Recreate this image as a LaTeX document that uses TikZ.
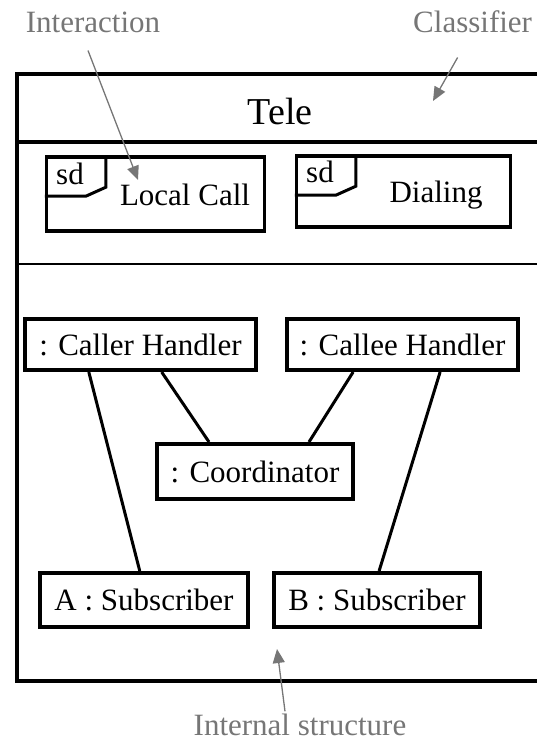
\documentclass[tikz,border=0pt]{standalone}
\usepackage{fontspec}
\setmainfont{Liberation Serif}
\usetikzlibrary{calc,arrows.meta}
\definecolor{notegray}{HTML}{767676}
\tikzset{
	partbox/.style={draw, line width=4pt, inner sep=0pt, font=\fontsize{31}{37}\selectfont},
	sdframe/.style={draw, line width=3.5pt, inner sep=0pt, minimum width=216pt, minimum height=72pt},
	sdtext/.style={inner sep=0pt, anchor=base, font=\fontsize{31}{37}\selectfont},
	wire/.style={line width=3pt},
	notetext/.style={inner sep=0pt, text=notegray, font=\fontsize{31}{37}\selectfont},
	note/.style={draw=notegray, line width=1.3pt, -{Triangle[length=14pt,width=12pt]}}
}

\begin{document}
\begin{tikzpicture}[x=1pt,y=-1pt]
		%%%%% START %%%%%
		\clip (0,0) rectangle (537,743);
		
		% classifier frame
		\draw[line width=4pt] (17,74) rectangle (560,681);
		\draw[line width=3.5pt] (17,142) -- (560,142);
		\draw[line width=2.5pt] (17,264) -- (560,264);
		\node[sdtext] (tele) at (280,125) {\fontsize{38}{44}\selectfont Tele};
		
		% interactions
		\node[sdframe, minimum width=218pt, minimum height=74pt] (localcall) at (155.5,194) {};
		\draw[line width=3pt] ($(localcall.north west)+(61,0)$) -- ++(0,32) -- ++(-20,9) -- ($(localcall.north west)+(0,41)$);
		\node[sdtext] (lcsd) at (70,185) {sd};
		\node[sdtext] (lcname) at (185,205) {Local Call};
		
		\node[sdframe, minimum width=214pt, minimum height=71pt] (dialing) at (403.5,191.5) {};
		\draw[line width=3pt] ($(dialing.north west)+(61,0)$) -- ++(0,32) -- ++(-20,9) -- ($(dialing.north west)+(0,41)$);
		\node[sdtext] (dlsd) at (320,183) {sd};
		\node[sdtext] (dlname) at (436,203) {Dialing};
		
		% internal structure
		\node[partbox, minimum width=231pt, minimum height=51pt] (caller) at (140.5,344.5) {: Caller Handler};
		\node[partbox, minimum width=231pt, minimum height=51pt] (callee) at (402.5,344.5) {: Callee Handler};
		\node[partbox, minimum width=196pt, minimum height=55pt] (coord) at (255,471.5) {: Coordinator};
		\node[partbox, minimum width=208pt, minimum height=54pt] (subA) at (144,600) {A : Subscriber};
		\node[partbox, minimum width=206pt, minimum height=54pt] (subB) at (377,600) {B : Subscriber};
		
		\draw[wire] ($(caller.south west)!0.28!(caller.south east)$) -- ($(subA.north west)!0.48!(subA.north east)$);
		\draw[wire] ($(caller.south west)!0.59!(caller.south east)$) -- ($(coord.north west)!0.27!(coord.north east)$);
		\draw[wire] ($(callee.south west)!0.29!(callee.south east)$) -- ($(coord.north west)!0.77!(coord.north east)$);
		\draw[wire] ($(callee.south west)!0.66!(callee.south east)$) -- ($(subB.north west)!0.51!(subB.north east)$);
		
		% notes
		\node[notetext, anchor=base] (interlbl) at (93,33) {Interaction};
		\coordinate (intertip) at (138,180);
		\draw[note] ($(interlbl.south)+(-5,17)$) -- (intertip);
		
		\node[notetext, anchor=base west] (classlbl) at (413,33) {Classifier};
		\coordinate (classtip) at (433,101);
		\draw[note] ($(classlbl.south)+(-15,24)$) -- (classtip);
		
		\node[notetext, anchor=base] (intlbl) at (300,735) {Internal structure};
		\coordinate (inttip) at (277,649);
		\draw[note] ($(intlbl.north)+(-15,-2)$) -- (inttip);
		
		%%%%% END %%%%%
	\end{tikzpicture}
\end{document}
